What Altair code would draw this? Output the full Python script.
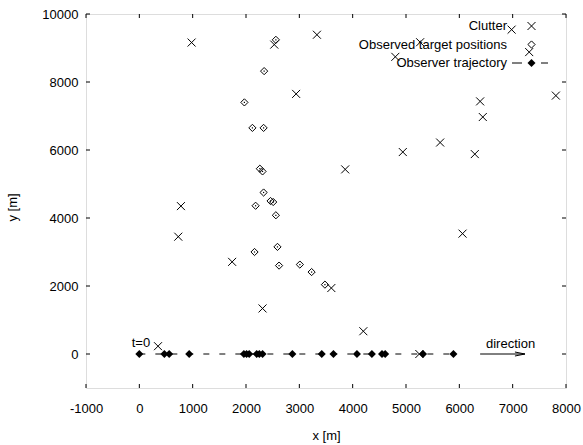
import altair as alt
import pandas as pd

W, H = 480, 374
FONT = "Liberation Sans"

# ---- data ----
clutter_x = [980, 2530, 3330, 2940, 3860, 780, 730, 1740, 2310, 3600, 350, 4200,
             5250, 6390, 6440, 7810, 5640, 4940, 6290, 6060, 6980, 5265, 4800, 7310]
clutter_y = [9160, 9100, 9390, 7650, 5430, 4350, 3450, 2710, 1340, 1940, 230, 670,
             0, 7430, 6970, 7600, 6220, 5940, 5880, 3540, 9540, 9170, 8740, 8880]

target_x = [2560, 2340, 1970, 2120, 2330, 2260, 2310, 2330, 2180, 2460, 2510, 2560,
            2590, 2160, 2620, 3010, 3230, 3480]
target_y = [9240, 8320, 7400, 6650, 6650, 5450, 5370, 4750, 4360, 4500, 4470, 4080,
            3150, 3000, 2600, 2630, 2410, 2040]

observer_x = [0, 470, 560, 935, 1960, 2010, 2060, 2200, 2250, 2310, 2870, 3420,
              3640, 4080, 4360, 4550, 4610, 5320, 5890]
observer_y = [0] * len(observer_x)

x_ticks = [-1000, 0, 1000, 2000, 3000, 4000, 5000, 6000, 7000, 8000]
y_ticks = [0, 2000, 4000, 6000, 8000, 10000]

annot_text = ["t=0", "direction"]
annot_x = [-142, 6960]
annot_y = [215, 185]

arrow_x = [6390, 7230]
arrow_y = [0, 0]

legend_labels = ["Clutter", "Observed target positions", "Observer trajectory"]

# ---- frames ----
df_clutter = pd.DataFrame({"x": clutter_x, "y": clutter_y})
df_target = pd.DataFrame({"x": target_x, "y": target_y})
df_obs = pd.DataFrame({"x": observer_x, "y": observer_y})
df_xt = pd.DataFrame({"v": x_ticks})
df_yt = pd.DataFrame({"v": y_ticks})
df_annot = pd.DataFrame({"t": annot_text, "x": annot_x, "y": annot_y})
df_arrow = pd.DataFrame({"x": [arrow_x[0]], "x2": [arrow_x[1]], "y": [arrow_y[0]]})
df_head = pd.DataFrame({"x": [arrow_x[1]], "y": [arrow_y[1]]})

legend_row = [12, 30.5, 49]
df_leg = pd.DataFrame({"label": legend_labels, "ly": legend_row})

X_PATH = "M-1,-1L1,1M-1,1L1,-1"
D_PATH = "M0,-1L1,0L0,1L-1,0Z"
HEAD_PATH = "M0,0L-2,-0.4M0,0L-2,0.4"

xs = alt.Scale(domain=[-1000, 8000], nice=False, zero=False)
ys = alt.Scale(domain=[-1000, 10000], nice=False, zero=False)

x_axis = alt.Axis(values=x_ticks, title="x [m]", grid=False, ticks=False, domain=False,
                  labelExpr="datum.value + ''", labelFontSize=13, labelPadding=14,
                  labelFlush=False, labelOverlap=False, labelBound=False,
                  labelColor="black", titleColor="black", titleFontSize=13,
                  titleFontWeight="normal", titleY=47, titleBaseline="middle",
                  labelFont=FONT, titleFont=FONT)
y_axis = alt.Axis(values=y_ticks, title="y [m]", grid=False, ticks=False, domain=False,
                  labelExpr="datum.value + ''", labelFontSize=13, labelPadding=8,
                  labelFlush=False, labelOverlap=False, labelBound=False,
                  labelColor="black", titleColor="black", titleFontSize=13,
                  titleFontWeight="normal", titleX=-74, titleY=193, titleAngle=270,
                  titleBaseline="middle", titleAlign="center",
                  labelFont=FONT, titleFont=FONT)

X = lambda: alt.X("x:Q", scale=xs, axis=x_axis)
Y = lambda: alt.Y("y:Q", scale=ys, axis=y_axis)

traj = alt.Chart(df_obs).mark_line(color="black", strokeWidth=1, strokeDash=[6, 10]).encode(
    x=X(), y=Y(), order="x:Q")
obs_pts = alt.Chart(df_obs).mark_point(shape=D_PATH, size=64, filled=True, color="black",
                                       opacity=1, strokeWidth=0).encode(x=X(), y=Y())
tgt_pts = alt.Chart(df_target).mark_point(shape=D_PATH, size=52, filled=False, color="black",
                                          opacity=1, strokeWidth=1).encode(x=X(), y=Y())
tgt_dot = alt.Chart(df_target).mark_square(size=1.5, color="black", opacity=1).encode(x=X(), y=Y())
clut_pts = alt.Chart(df_clutter).mark_point(shape=X_PATH, size=64, filled=False, color="black",
                                            opacity=1, strokeWidth=1).encode(x=X(), y=Y())

xt_bot = alt.Chart(df_xt).mark_rule(color="black", strokeWidth=1).encode(
    x=alt.X("v:Q", scale=xs, axis=x_axis), y=alt.value(H), y2=alt.value(H - 4))
xt_top = alt.Chart(df_xt).mark_rule(color="black", strokeWidth=1).encode(
    x=alt.X("v:Q", scale=xs, axis=x_axis), y=alt.value(0), y2=alt.value(4))
yt_l = alt.Chart(df_yt).mark_rule(color="black", strokeWidth=1).encode(
    y=alt.Y("v:Q", scale=ys, axis=y_axis), x=alt.value(0), x2=alt.value(4))
yt_r = alt.Chart(df_yt).mark_rule(color="black", strokeWidth=1).encode(
    y=alt.Y("v:Q", scale=ys, axis=y_axis), x=alt.value(W), x2=alt.value(W - 4))

annot_t0 = alt.Chart(df_annot.iloc[[0]]).mark_text(
    font=FONT, fontSize=13, align="left", baseline="alphabetic", color="black").encode(
    x=X(), y=Y(), text="t:N")
annot_dir = alt.Chart(df_annot.iloc[[1]]).mark_text(
    font=FONT, fontSize=13, align="center", baseline="alphabetic", color="black").encode(
    x=X(), y=Y(), text="t:N")
arrow_line = alt.Chart(df_arrow).mark_rule(color="black", strokeWidth=1).encode(
    x=X(), x2="x2:Q", y=Y())
arrow_head = alt.Chart(df_head).mark_point(shape=HEAD_PATH, size=100, filled=False,
                                           color="black", opacity=1, strokeWidth=1).encode(
    x=X(), y=Y())

# ---- key (gnuplot style: label right-aligned, sample to the right) ----
LX, SX = 421, 445.5
leg_text = alt.Chart(df_leg).mark_text(font=FONT, fontSize=13, align="right",
                                       baseline="middle", color="black").encode(
    x=alt.value(LX), y=alt.Y("ly:Q", scale=None), text="label:N")
leg_x = alt.Chart(df_leg.iloc[[0]]).mark_point(shape=X_PATH, size=64, filled=False,
                                                color="black", opacity=1, strokeWidth=1).encode(
    x=alt.value(SX), y=alt.Y("ly:Q", scale=None))
leg_d = alt.Chart(df_leg.iloc[[1]]).mark_point(shape=D_PATH, size=52, filled=False,
                                                color="black", opacity=1, strokeWidth=1).encode(
    x=alt.value(SX), y=alt.Y("ly:Q", scale=None))
leg_line = alt.Chart(df_leg.iloc[[2]]).mark_rule(color="black", strokeWidth=1,
                                                 strokeDash=[10, 19]).encode(
    x=alt.value(426), x2=alt.value(462), y=alt.Y("ly:Q", scale=None))
leg_f = alt.Chart(df_leg.iloc[[2]]).mark_point(shape=D_PATH, size=64, filled=True,
                                                color="black", opacity=1, strokeWidth=0).encode(
    x=alt.value(SX), y=alt.Y("ly:Q", scale=None))

chart = alt.layer(
    traj, obs_pts, tgt_pts, tgt_dot, clut_pts,
    xt_bot, xt_top, yt_l, yt_r,
    annot_t0, annot_dir, arrow_line, arrow_head,
    leg_text, leg_x, leg_d, leg_line, leg_f,
).properties(
    width=W, height=H,
    padding={"left": 86, "top": 14, "right": 17, "bottom": 57},
    autosize=alt.AutoSizeParams(type="none"),
).configure_view(stroke="black", strokeWidth=1).configure(background="white")

chart.save("out.html", embed_options={"renderer": "svg", "actions": False})
